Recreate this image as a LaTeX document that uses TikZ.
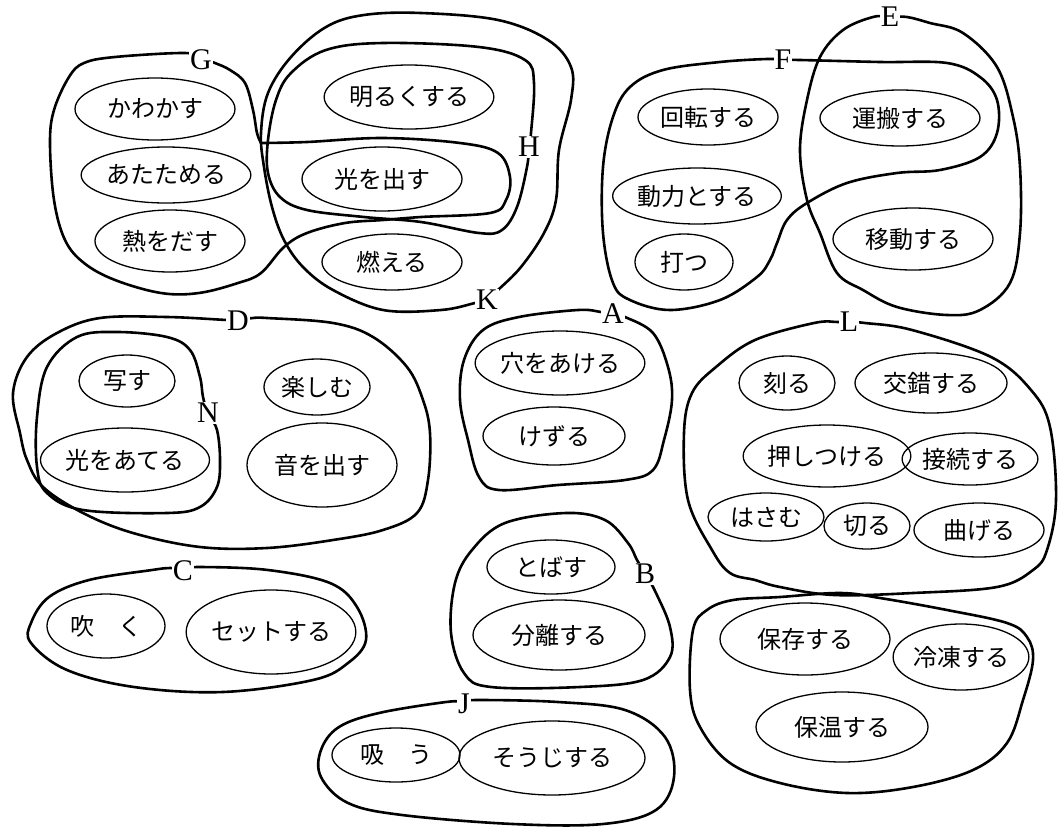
\documentclass[tikz,border=0pt]{standalone}
\usepackage{fontspec}
\setmainfont{Liberation Serif}
\newfontfamily\jp{Noto Sans CJK JP}
\usepackage{tikz}
\usetikzlibrary{shapes.geometric}

\tikzset{
  verb/.style={ellipse, draw, line width=1.3pt, inner sep=0pt,
    font=\jp\fontsize{24}{24}\selectfont},
  group/.style={line width=2.6pt, line join=round},
  tag/.style={fill=white, inner sep=1pt, font=\fontsize{30}{30}\selectfont},
}

\begin{document}
\begin{tikzpicture}[x=1pt, y=-1pt]
  \useasboundingbox (0,0) rectangle (1058,828);
  % group outlines: \draw[group] plot[smooth cycle] coordinates {...};
  \draw[group] plot[smooth, tension=0.6] coordinates {(261,143) (307,142) (383,138) (460,143) (498,153) (510,177) (506,200) (490,213) (421,217) (383,220) (345,223) (307,233) (284,247) (261,273) (238,283) (199,293) (161,293) (115,280) (84,263) (65,240) (54,200) (50,143) (54,110) (69,77) (84,63) (115,57) (184,53) (201,58) (215,63) (230,70) (245,83) (253,110) (257,133) (261,143)};
  \draw[group] plot[smooth cycle, tension=0.6] coordinates {(529,147) (531,133) (534,83) (525,60) (479,47) (383,43) (326,50) (291,73) (276,100) (268,140) (268,173) (280,197) (307,210) (364,217) (421,222) (479,233) (502,230) (517,207) (527,167)};
  \draw[group] plot[smooth cycle, tension=0.6] coordinates {(487,300) (498,290) (521,267) (544,233) (556,200) (559,150) (571,100) (571,67) (548,40) (498,20) (421,13) (364,15) (326,27) (291,57) (268,93) (261,133) (264,167) (272,207) (284,240) (303,267) (333,290) (383,310) (441,310) (475,303)};
  \draw[group] plot[smooth cycle, tension=0.6] coordinates {(890,17) (907,17) (930,23) (963,33) (997,67) (1013,117) (1020,167) (1020,233) (1010,283) (980,310) (947,315) (897,307) (863,290) (837,273) (820,233) (807,200) (800,150) (807,100) (820,57) (843,30) (873,17)};
  \draw[group] plot[smooth cycle, tension=0.6] coordinates {(783,60) (800,60) (880,62) (947,63) (980,77) (997,100) (997,133) (980,157) (940,170) (897,173) (847,183) (807,203) (787,220) (777,243) (770,260) (757,277) (720,300) (670,310) (630,300) (613,283) (603,233) (603,167) (613,117) (630,87) (663,70) (720,62) (767,59)};
  \draw[group] plot[smooth cycle, tension=0.6] coordinates {(238,320) (253,318) (267,318) (333,323) (373,337) (407,367) (423,400) (430,433) (428,480) (417,513) (383,530) (333,540) (267,548) (200,547) (133,533) (83,513) (43,487) (27,460) (20,433) (13,393) (27,357) (57,333) (100,318) (167,317) (227,320)};
  \draw[group] plot[smooth cycle, tension=0.6] coordinates {(208,413) (203,397) (200,377) (190,350) (167,337) (117,332) (77,337) (47,367) (37,417) (37,467) (47,493) (83,510) (167,513) (200,507) (217,487) (220,460) (217,430)};
  \draw[group] plot[smooth cycle, tension=0.6] coordinates {(613,314) (625,317) (653,333) (668,367) (672,400) (664,440) (653,470) (625,480) (558,485) (499,490) (479,477) (468,440) (460,400) (464,360) (483,330) (519,317) (578,310) (601,312)};
  \draw[group] plot[smooth cycle, tension=0.6] coordinates {(849,322) (865,323) (912,330) (991,357) (1031,390) (1050,427) (1056,500) (1047,550) (1033,570) (997,587) (913,593) (834,595) (780,587) (755,580) (730,573) (712,550) (688,500) (684,433) (692,393) (716,367) (755,340) (814,323) (838,322)};
  \draw[group] plot[smooth cycle, tension=0.6] coordinates {(645,573) (656,593) (670,627) (670,657) (643,680) (580,687) (491,687) (464,673) (451,633) (455,583) (472,550) (505,523) (566,513) (605,520) (628,543) (637,560)};
  \draw[group] plot[smooth cycle, tension=0.6] coordinates {(183,569) (201,567) (268,570) (330,583) (357,607) (366,640) (348,663) (313,680) (223,692) (134,687) (67,670) (31,643) (31,623) (49,597) (89,580) (152,570) (170,568)};
  \draw[group] plot[smooth cycle, tension=0.6] coordinates {(464,702) (478,700) (558,702) (625,710) (665,737) (674,777) (656,810) (603,824) (513,824) (402,815) (348,803) (321,777) (321,750) (339,727) (379,713) (446,702)};
  \draw[group] plot[smooth cycle, tension=0.6] coordinates {(733,600) (780,597) (840,593) (880,598) (947,610) (1007,623) (1027,637) (1033,660) (1023,700) (1007,743) (973,770) (913,787) (847,793) (780,783) (730,763) (700,727) (690,690) (693,630) (707,610)};
  % group letters sit on the outlines
  \node[tag] (tagG) at (201,60) {G};
  \node[tag] (tagH) at (529,147) {H};
  \node[tag] (tagK) at (487,300) {K};
  \node[tag] (tagE) at (890,17) {E};
  \node[tag] (tagF) at (783,60) {F};
  \node[tag] (tagD) at (238,321) {D};
  \node[tag] (tagN) at (208,413) {N};
  \node[tag] (tagA) at (613,314) {A};
  \node[tag] (tagL) at (849,322) {L};
  \node[tag] (tagB) at (645,574) {B};
  \node[tag] (tagC) at (183,571) {C};
  \node[tag] (tagJ) at (464,704) {J};
  % verbs
  \node[verb, minimum width=160pt, minimum height=62pt] (kawakasu) at (155,109) {かわかす};
  \node[verb, minimum width=136pt, minimum height=56pt] (atatameru) at (166,175) {あたためる};
  \node[verb, minimum width=150pt, minimum height=62pt] (netsu) at (170,241) {熱をだす};
  \node[verb, minimum width=148pt, minimum height=64pt] (akaruku) at (409,97) {明るくする};
  \node[verb, minimum width=160pt, minimum height=64pt] (hikari) at (382,179) {光を出す};
  \node[verb, minimum width=140pt, minimum height=56pt] (moeru) at (392,262) {燃える};
  \node[verb, minimum width=140pt, minimum height=56pt] (kaiten) at (708,117) {回転する};
  \node[verb, minimum width=140pt, minimum height=56pt] (douryoku) at (697,196) {動力とする};
  \node[verb, minimum width=98pt, minimum height=56pt] (utsu) at (684,262) {打つ};
  \node[verb, minimum width=160pt, minimum height=56pt] (unpan) at (900,118) {運搬する};
  \node[verb, minimum width=160pt, minimum height=62pt] (idou) at (913,239) {移動する};
  \node[verb, minimum width=96pt, minimum height=52pt] (utsusu) at (127,381) {写す};
  \node[verb, minimum width=150pt, minimum height=64pt] (ateru) at (125,460) {光をあてる};
  \node[verb, minimum width=106pt, minimum height=56pt] (tanoshimu) at (317,387) {楽しむ};
  \node[verb, minimum width=150pt, minimum height=84pt] (oto) at (322,465) {音を出す};
  \node[verb, minimum width=162pt, minimum height=64pt] (ana) at (560,363) {穴をあける};
  \node[verb, minimum width=142pt, minimum height=58pt] (kezuru) at (554,436) {けずる};
  \node[verb, minimum width=96pt, minimum height=54pt] (kizamu) at (787,383) {刻る};
  \node[verb, minimum width=152pt, minimum height=60pt] (kousaku) at (931,383) {交錯する};
  \node[verb, minimum width=148pt, minimum height=62pt] (oshitsukeru) at (827,456) {押しつける};
  \node[verb, minimum width=130pt, minimum height=52pt] (setsuzoku) at (970,459) {接続する};
  \node[verb, minimum width=116pt, minimum height=48pt] (hasamu) at (766,517) {はさむ};
  \node[verb, minimum width=86pt, minimum height=46pt] (kiru) at (867,526) {切る};
  \node[verb, minimum width=130pt, minimum height=54pt] (mageru) at (979,530) {曲げる};
  \node[verb, minimum width=118pt, minimum height=64pt] (fuku) at (106,626) {吹　く};
  \node[verb, minimum width=150pt, minimum height=84pt] (setto) at (271,632) {セットする};
  \node[verb, minimum width=128pt, minimum height=54pt] (tobasu) at (551,567) {とばす};
  \node[verb, minimum width=172pt, minimum height=70pt] (bunri) at (559,635) {分離する};
  \node[verb, minimum width=128pt, minimum height=54pt] (suu) at (396,755) {吸　う};
  \node[verb, minimum width=186pt, minimum height=74pt] (souji) at (552,758) {そうじする};
  \node[verb, minimum width=170pt, minimum height=72pt] (hozon) at (805,639) {保存する};
  \node[verb, minimum width=118pt, minimum height=66pt] (reitou) at (961,657) {冷凍する};
  \node[verb, minimum width=172pt, minimum height=70pt] (hoon) at (842,727) {保温する};
\end{tikzpicture}
\end{document}
